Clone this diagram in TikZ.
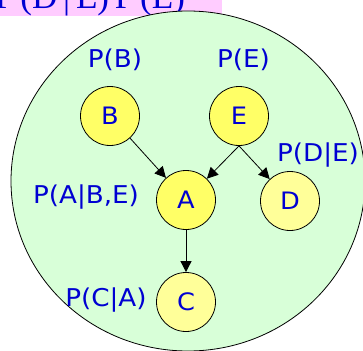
\documentclass[tikz,border=0pt]{standalone}
\usepackage{fontspec}
\setmainfont{DejaVu Sans}[FakeStretch=1.07]
\newfontfamily\serf{Liberation Serif}
\usetikzlibrary{arrows.meta}
\definecolor{bgc}{RGB}{216,255,216}
\definecolor{yelA}{RGB}{255,255,102}
\definecolor{yelB}{RGB}{255,255,153}
\definecolor{txtc}{RGB}{0,0,210}
\definecolor{pinkc}{RGB}{255,204,255}
\tikzset{
  var/.style={circle, draw=black, line width=0.8pt, minimum size=59pt, inner sep=0pt,
    text=txtc, font=\fontsize{24}{24}\selectfont},
  lab/.style={anchor=base, inner sep=0pt, text=txtc, font=\fontsize{24.5}{24.5}\selectfont},
  edge/.style={draw=black, line width=0.8pt, -{Triangle[length=11pt,width=11pt]}}
}
\begin{document}
\begin{tikzpicture}[x=1pt,y=-1pt]
\useasboundingbox (0,0) rectangle (363,350);
\clip (0,0) rectangle (363,350);
\fill[pinkc] (0,-10) rectangle (222,16);
\node[anchor=base west, inner sep=0pt, text=txtc, font=\serf\fontsize{35}{35}\selectfont] (formula) at (-5,9) {P\,(D\,|\,E)\,P\,(E)};
\draw[line width=0.8pt, fill=bgc] (188,181) ellipse [x radius=177, y radius=170];
\node[var, fill=yelA] (B) at (110,116) {B};
\node[var, fill=yelA] (E) at (239,116) {E};
\node[var, fill=yelA] (A) at (186,200) {A};
\node[var, fill=yelB] (D) at (290,201) {D};
\node[var, fill=yelB] (C) at (186,302) {C};
\node[lab] (pB) at (115,67) {P(B)};
\node[lab] (pE) at (243.5,67) {P(E)};
\node[lab] (pD) at (318,161) {P(D|E)};
\node[lab] (pA) at (86,203) {P(A|B,E)};
\node[lab] (pC) at (106,306) {P(C|A)};
\draw[edge] (B) -- (A);
\draw[edge] (E.south) -- (A);
\draw[edge] (E.south) -- (D);
\draw[edge] (A) -- (C);
\end{tikzpicture}
\end{document}
